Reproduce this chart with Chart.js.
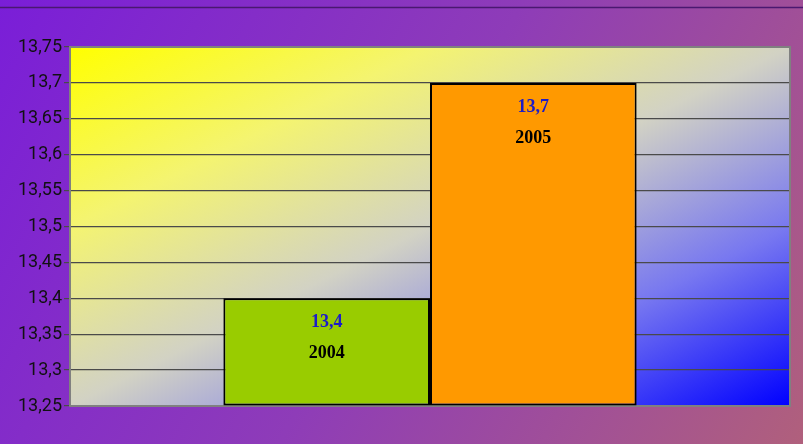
<!DOCTYPE html>
<html>
<head>
<meta charset="utf-8">
<script src="https://cdn.jsdelivr.net/npm/chart.js@4/dist/chart.umd.min.js"></script>
<style>
html,body{margin:0;padding:0;}
#wrap{width:803px;height:444px;position:relative;}
</style>
</head>
<body>
<div id="wrap"><canvas id="c" width="803" height="444"></canvas></div>
<script>
const years = ['2004', '2005'];
const values = [13.4, 13.7];
const barColors = ['#99cc00', '#ff9900'];
const yMin = 13.25, yMax = 13.75, yStep = 0.05;

const fmt = v => String(Math.round(v * 100) / 100).replace('.', ',');

const bgPlugin = {
  id: 'bg',
  beforeDraw(chart) {
    const ctx = chart.ctx, W = chart.width, H = chart.height;
    ctx.save();
    let g = ctx.createLinearGradient(0, 0, W, H);
    g.addColorStop(0, '#7a1ed8');
    g.addColorStop(0.5, '#8e3cb8');
    g.addColorStop(1, '#b0607c');
    ctx.fillStyle = g;
    ctx.fillRect(0, 0, W, H);
    ctx.strokeStyle = '#4a1870';
    ctx.lineWidth = 1.5;
    ctx.beginPath(); ctx.moveTo(0, 7.5); ctx.lineTo(W, 7.5); ctx.stroke();
    const a = chart.chartArea;
    const w = a.right - a.left, h = a.bottom - a.top;
    const k = 2 * w * h / (w * w + h * h);
    g = ctx.createLinearGradient(a.left, a.top, a.left + h * k, a.top + w * k);
    g.addColorStop(0, '#ffff00');
    g.addColorStop(0.25, '#f4f470');
    g.addColorStop(0.5, '#d2d2c4');
    g.addColorStop(0.75, '#7878f0');
    g.addColorStop(1, '#0000ff');
    ctx.fillStyle = g;
    ctx.fillRect(a.left, a.top, w, h);
    ctx.restore();
  },
  beforeDatasetsDraw(chart) {
    const ctx = chart.ctx, a = chart.chartArea;
    ctx.save();
    ctx.strokeStyle = '#808080';
    ctx.lineWidth = 2;
    ctx.strokeRect(a.left, a.top, a.right - a.left, a.bottom - a.top);
    ctx.restore();
  },
  afterDatasetsDraw(chart) {
    const ctx = chart.ctx;
    ctx.save();
    ctx.textAlign = 'center';
    ctx.textBaseline = 'middle';
    ctx.font = 'bold 18px "Liberation Serif", serif';
    chart.data.datasets.forEach((ds, i) => {
      const el = chart.getDatasetMeta(i).data[0];
      ctx.fillStyle = '#1c1cc8';
      ctx.fillText(fmt(ds.data[0]), el.x, el.y + 24);
      ctx.fillStyle = '#000000';
      ctx.fillText(ds.label, el.x, el.y + 55);
    });
    ctx.restore();
  }
};

new Chart(document.getElementById('c'), {
  type: 'bar',
  data: {
    labels: [''],
    datasets: years.map((y, i) => ({
      label: y,
      data: [values[i]],
      backgroundColor: barColors[i],
      borderColor: '#000000',
      borderWidth: 2,
      borderSkipped: false,
      base: yMin,
      barPercentage: 1,
      categoryPercentage: 0.574
    }))
  },
  options: {
    responsive: false,
    animation: false,
    layout: { padding: { left: 0, right: 13, top: 47, bottom: 38 } },
    plugins: { legend: { display: false }, tooltip: { enabled: false } },
    scales: {
      x: { display: false },
      y: {
        min: yMin, max: yMax,
        afterFit(s) { s.width = 70; },
        ticks: {
          stepSize: yStep,
          color: '#111111',
          padding: 2,
          font: { family: 'Roboto', size: 18 },
          callback: v => fmt(v)
        },
        grid: { color: '#4a4a4a', lineWidth: 1.2, tickLength: 6, drawOnChartArea: true },
        border: { display: false }
      }
    }
  },
  plugins: [bgPlugin]
});
</script>
</body>
</html>
